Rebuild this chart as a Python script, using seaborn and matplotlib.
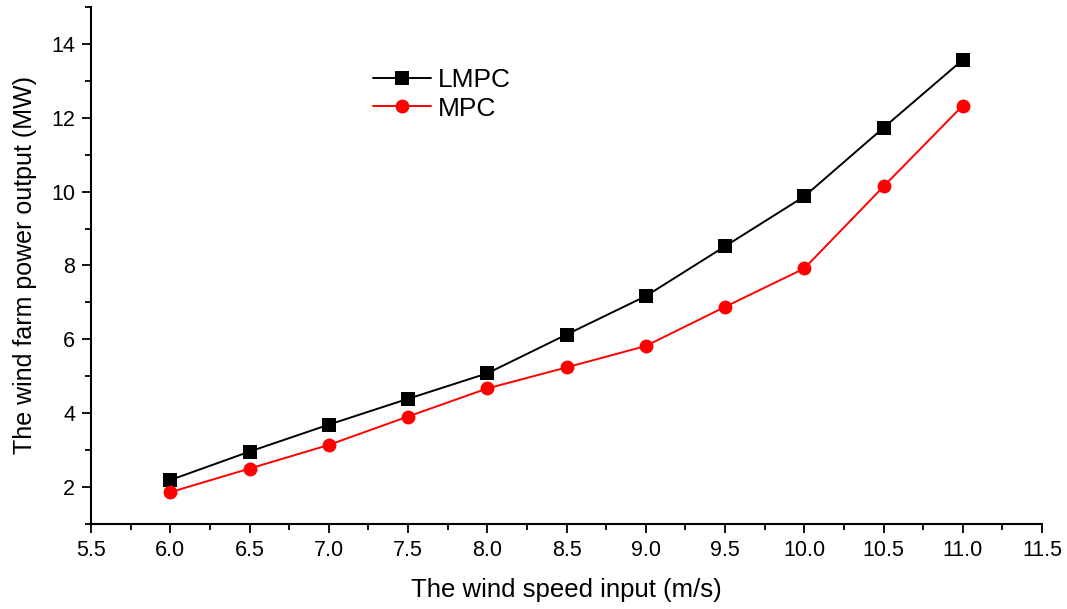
import pandas as pd
import seaborn as sns
import matplotlib
matplotlib.use("Agg")
import matplotlib.pyplot as plt
from matplotlib.ticker import MultipleLocator

wind_speed = [6.0, 6.5, 7.0, 7.5, 8.0, 8.5, 9.0, 9.5, 10.0, 10.5, 11.0]
lmpc_power = [2.19, 2.96, 3.69, 4.39, 5.08, 6.13, 7.17, 8.52, 9.87, 11.73, 13.57]
mpc_power = [1.86, 2.50, 3.14, 3.91, 4.67, 5.24, 5.82, 6.88, 7.92, 10.14, 12.33]

sns.set_style("ticks", {'axes.edgecolor': 'black', 'text.color': 'black',
                        'axes.labelcolor': 'black', 'xtick.color': 'black',
                        'ytick.color': 'black'})
plt.rcParams['font.family'] = ['Liberation Sans', 'DejaVu Sans']

df_lmpc = pd.DataFrame({'speed': wind_speed, 'power': lmpc_power})
df_lmpc['method'] = 'LMPC'
df_mpc = pd.DataFrame({'speed': wind_speed, 'power': mpc_power})
df_mpc['method'] = 'MPC'
res = pd.concat([df_lmpc, df_mpc])

fig = plt.figure(figsize=(10.67, 6.09), dpi=100)
ax = fig.add_axes([0.0853, 0.1396, 0.8913, 0.8489])

sns.lineplot(data=res, x='speed', y='power', hue='method', style='method',
             palette={'LMPC': 'black', 'MPC': '#ff0000'},
             markers={'LMPC': 's', 'MPC': 'o'}, dashes=False,
             markersize=10, markeredgewidth=0, linewidth=1.4, ax=ax)

ax.set_xlim(5.5, 11.5)
ax.set_ylim(1, 15)
ax.xaxis.set_major_locator(MultipleLocator(0.5))
ax.xaxis.set_minor_locator(MultipleLocator(0.25))
ax.yaxis.set_major_locator(MultipleLocator(2))
ax.yaxis.set_minor_locator(MultipleLocator(1))
ax.set_xticklabels([f"{v:.1f}" for v in ax.get_xticks()])
ax.tick_params(which='major', length=6.5, width=1.3, labelsize=15.5, direction='out', pad=5)
ax.tick_params(which='minor', length=4, width=1.3, direction='out')
sns.despine(ax=ax)
for s in ['left', 'bottom']:
    ax.spines[s].set_linewidth(1.5)

ax.set_xlabel("The wind speed input (m/s)", fontsize=18.5, labelpad=12)
ax.set_ylabel("The wind farm power output (MW)", fontsize=18, labelpad=10)

leg = ax.legend(loc='upper left', bbox_to_anchor=(0.272, 0.928), frameon=False,
                fontsize=19, handlelength=2.2, handletextpad=0.25, labelspacing=0.18)

fig.savefig("out.png", dpi=100)
